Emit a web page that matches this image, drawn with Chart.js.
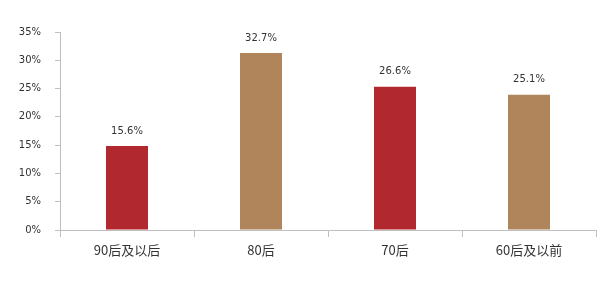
<!DOCTYPE html>
<html>
<head>
<meta charset="utf-8">
<script src="https://cdn.jsdelivr.net/npm/chart.js@4/dist/chart.umd.min.js"></script>
<style>
  html, body { margin: 0; padding: 0; background: #fff; }
  #wrap { width: 616px; height: 283px; }
</style>
</head>
<body>
<div id="wrap"><canvas id="c" width="616" height="283"></canvas></div>
<script>
// data
const categories = ['90后及以后', '80后', '70后', '60后及以前'];
const barValues  = [14.85, 31.3, 25.3, 23.9];
const barLabels  = ['15.6%', '32.7%', '26.6%', '25.1%'];
const barColors  = ['#B2282F', '#B0855B', '#B2282F', '#B0855B'];
const yTicks     = [0, 5, 10, 15, 20, 25, 30, 35];

const axisGrey = '#BFBFBF';
const textCol  = '#333333';

// value labels above each bar
const valueLabels = {
  id: 'valueLabels',
  afterDatasetsDraw(chart) {
    const ctx = chart.ctx;
    const meta = chart.getDatasetMeta(0);
    ctx.save();
    ctx.font = '10px "DejaVu Sans", sans-serif';
    ctx.fillStyle = textCol;
    ctx.textAlign = 'center';
    ctx.textBaseline = 'middle';
    meta.data.forEach((bar, i) => {
      ctx.fillText(barLabels[i], bar.x, bar.y - 15);
    });
    // y axis runs a little below the x axis
    const a = chart.chartArea;
    ctx.strokeStyle = axisGrey;
    ctx.lineWidth = 1;
    ctx.beginPath();
    ctx.moveTo(Math.round(a.left) + 0.5, a.bottom);
    ctx.lineTo(Math.round(a.left) + 0.5, a.bottom + 7);
    ctx.stroke();
    ctx.restore();
  }
};

new Chart(document.getElementById('c').getContext('2d'), {
  type: 'bar',
  data: {
    labels: categories,
    datasets: [{
      data: barValues,
      backgroundColor: barColors,
      borderWidth: 0,
      categoryPercentage: 1,
      barPercentage: 42 / 134,
    }],
  },
  options: {
    responsive: false,
    animation: false,
    layout: { padding: { top: 32, right: 20, left: 0, bottom: 0 } },
    plugins: { legend: { display: false }, tooltip: { enabled: false } },
    scales: {
      x: {
        grid: {
          offset: true,
          drawOnChartArea: false,
          color: axisGrey,
          tickLength: 7,
        },
        border: { color: axisGrey, width: 1 },
        ticks: {
          color: textCol,
          padding: 5,
          font: { family: '"Noto Sans CJK SC", sans-serif', size: 13 },
        },
        afterFit(scale) { scale.height = 53; },
      },
      y: {
        min: 0,
        max: 35,
        afterBuildTicks(scale) { scale.ticks = yTicks.map(v => ({ value: v })); },
        grid: {
          drawOnChartArea: false,
          color: axisGrey,
          tickLength: 5,
        },
        border: { color: axisGrey, width: 1 },
        ticks: {
          color: textCol,
          padding: 14,
          font: { family: '"DejaVu Sans", sans-serif', size: 10 },
          callback: v => v + '%',
        },
        afterFit(scale) { scale.width = 60; },
      },
    },
  },
  plugins: [valueLabels],
});
</script>
</body>
</html>
